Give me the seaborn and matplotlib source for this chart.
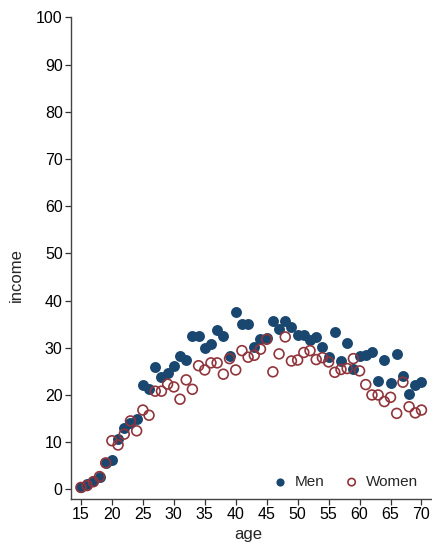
import matplotlib
matplotlib.use("Agg")
import matplotlib.pyplot as plt
import seaborn as sns
import pandas as pd

# Mean income by age, men and women
ages = list(range(15, 71))
men = [0.4, 1.1, 1.8, 2.7, 5.6, 6.2, 10.6, 13.1, 14.0, 15.0,
       22.1, 21.2, 26.0, 23.7, 24.6, 26.2, 28.2, 27.5, 32.5, 32.5,
       30.0, 30.9, 33.7, 32.5, 28.3, 37.6, 35.0, 35.1, 30.2, 31.8,
       32.0, 35.6, 34.0, 35.7, 34.5, 32.7, 32.7, 31.6, 32.2, 30.1,
       28.1, 33.3, 27.2, 31.1, 25.6, 28.2, 28.5, 29.2, 23.0, 27.5,
       22.6, 28.7, 24.1, 20.3, 22.2, 22.7]
women = [0.4, 0.8, 1.6, 2.7, 5.6, 10.3, 9.4, 11.7, 14.5, 12.4,
         16.8, 15.7, 20.8, 20.8, 22.3, 21.7, 19.1, 23.2, 21.2, 26.2,
         25.3, 26.8, 26.8, 24.4, 27.7, 25.3, 29.4, 28.0, 28.4, 29.7,
         31.8, 24.9, 28.7, 32.3, 27.2, 27.4, 29.0, 29.4, 27.5, 27.9,
         27.0, 24.8, 25.4, 25.6, 27.7, 25.1, 22.2, 20.0, 20.0, 18.6,
         19.5, 16.1, 22.7, 17.5, 16.2, 16.8]

x_ticks = list(range(15, 75, 5))
y_ticks = list(range(0, 110, 10))

navy = "#1a476f"
maroon = "#90353b"

df_m = pd.DataFrame({"age": ages, "income": men})
df_w = pd.DataFrame({"age": ages, "income": women})

sns.set_theme(style="ticks")
plt.rcParams["font.family"] = ["Liberation Sans", "DejaVu Sans"]

fig = plt.figure(figsize=(4.32, 5.45), dpi=100)
ax = fig.add_axes([0.1644, 0.0844, 0.8356, 0.8844])

sns.scatterplot(data=df_m, x="age", y="income", ax=ax, s=62,
                color=navy, edgecolor=navy, linewidth=0, label="Men", zorder=3)
sns.scatterplot(data=df_w, x="age", y="income", ax=ax, s=50,
                facecolor="none", edgecolor=maroon, linewidth=1.2,
                label="Women", zorder=4)

ax.set_xlim(13.4, 71.7)
ax.set_ylim(-2.05, 100.1)
ax.set_xticks(x_ticks)
ax.set_yticks(y_ticks)
ax.tick_params(axis="both", direction="out", length=4, width=0.9,
               color="#333333", labelsize=11.5, labelcolor="black", pad=2)
ax.set_xlabel("age", fontsize=12)
ax.set_ylabel("income", fontsize=12)
ax.xaxis.set_label_coords(0.49, -0.058)
ax.yaxis.set_label_coords(-0.13, 0.465)

for side in ("top", "right"):
    ax.spines[side].set_visible(False)
for side in ("left", "bottom"):
    ax.spines[side].set_color("#444444")
    ax.spines[side].set_linewidth(1.0)

ax.legend(loc="lower right", bbox_to_anchor=(1.0, -0.008), ncol=2,
          frameon=False, fontsize=11, handlelength=1.0, handletextpad=0.45,
          columnspacing=1.3, markerscale=0.75)

fig.savefig("out.png", dpi=100)
